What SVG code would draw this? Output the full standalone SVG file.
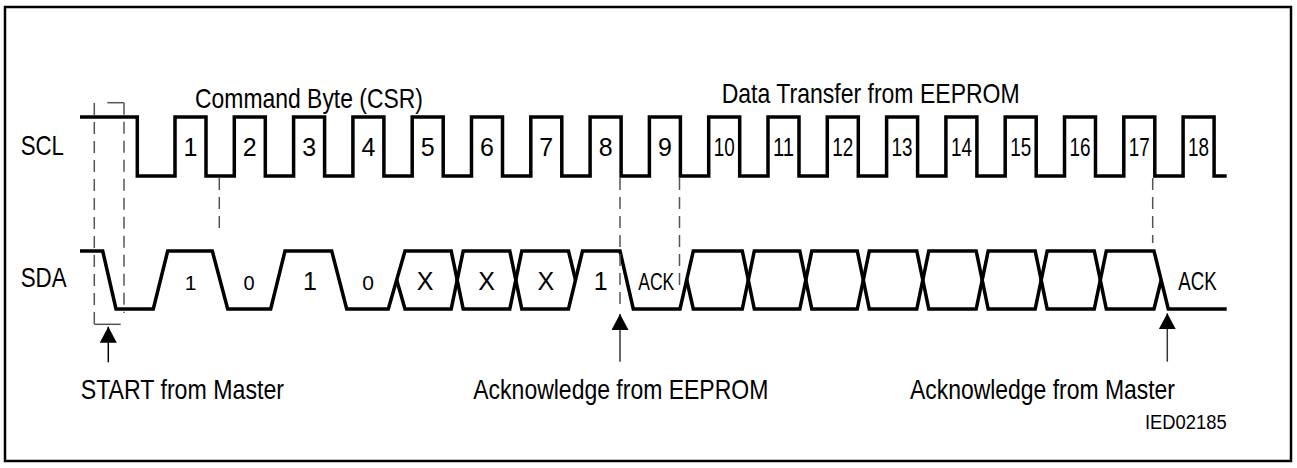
<svg xmlns="http://www.w3.org/2000/svg" width="1297" height="468" viewBox="0 0 1297 468">
<style>
.t{font-family:"Liberation Sans",Arial,sans-serif;fill:#000}
.lbl{font-size:27.5px}
.num{font-size:25px;text-anchor:middle}
.sm{font-size:21px;text-anchor:middle}
.wave{fill:none;stroke:#000;stroke-width:3.5;stroke-linejoin:miter;stroke-linecap:butt}
.dash{fill:none;stroke:#555;stroke-width:1.5;stroke-dasharray:12 7}
.thin{fill:none;stroke:#555;stroke-width:1.5}
.arr{fill:none;stroke:#333;stroke-width:1.5;marker-end:url(#ah)}
</style>
<defs>
<marker id="ah" markerUnits="userSpaceOnUse" markerWidth="16" markerHeight="17" viewBox="0 0 15 16" refX="15" refY="8" orient="auto">
<path d="M0,0 L15,8 L0,16 Z" fill="#000"/>
</marker>
</defs>
<rect x="5" y="7" width="1286" height="454" fill="#fff" stroke="#000" stroke-width="2.5"/>

<g id="titles">
<text class="t lbl" x="195" y="108" textLength="228" lengthAdjust="spacingAndGlyphs">Command Byte (CSR)</text>
<text class="t lbl" x="721.7" y="103" textLength="298" lengthAdjust="spacingAndGlyphs">Data Transfer from EEPROM</text>
</g>

<g id="scl">
<text class="t lbl" x="20.7" y="155" textLength="43.3" lengthAdjust="spacingAndGlyphs">SCL</text>
<path class="wave" d="M80,117 H137.3 V176 H175 V117 H206 V176 H234.3 V117 H265.3 V176 H293.6 V117 H324.6 V176 H352.9 V117 H383.9 V176 H412.2 V117 H443.2 V176 H471.5 V117 H502.5 V176 H530.8 V117 H561.8 V176 H590.1 V117 H621.1 V176 H649.4 V117 H680.4 V176 H708.7 V117 H739.7 V176 H768 V117 H799 V176 H827.3 V117 H858.3 V176 H886.6 V117 H917.6 V176 H945.9 V117 H976.9 V176 H1005.2 V117 H1036.2 V176 H1064.5 V117 H1095.5 V176 H1123.8 V117 H1154.8 V176 H1183.1 V117 H1214.1 V176 H1226.7"/>
<text class="t num" x="190.5" y="156">1</text>
<text class="t num" x="249.8" y="156">2</text>
<text class="t num" x="309.1" y="156">3</text>
<text class="t num" x="368.4" y="156">4</text>
<text class="t num" x="427.7" y="156">5</text>
<text class="t num" x="487" y="156">6</text>
<text class="t num" x="546.3" y="156">7</text>
<text class="t num" x="605.6" y="156">8</text>
<text class="t num" x="664.9" y="156">9</text>
<text class="t num" x="724.2" y="156" textLength="21" lengthAdjust="spacingAndGlyphs">10</text>
<text class="t num" x="783.5" y="156" textLength="21" lengthAdjust="spacingAndGlyphs">11</text>
<text class="t num" x="842.8" y="156" textLength="21" lengthAdjust="spacingAndGlyphs">12</text>
<text class="t num" x="902.1" y="156" textLength="21" lengthAdjust="spacingAndGlyphs">13</text>
<text class="t num" x="961.4" y="156" textLength="21" lengthAdjust="spacingAndGlyphs">14</text>
<text class="t num" x="1020.7" y="156" textLength="21" lengthAdjust="spacingAndGlyphs">15</text>
<text class="t num" x="1080" y="156" textLength="21" lengthAdjust="spacingAndGlyphs">16</text>
<text class="t num" x="1139.3" y="156" textLength="21" lengthAdjust="spacingAndGlyphs">17</text>
<text class="t num" x="1198.6" y="156" textLength="21" lengthAdjust="spacingAndGlyphs">18</text>
</g>

<g id="sda">
<text class="t lbl" x="20.7" y="286.7" textLength="46" lengthAdjust="spacingAndGlyphs">SDA</text>
<path class="wave" d="M80,251 H102.7 L116,309 H153.3 L167.7,251 H212.3 L227.7,309 H270.7 L285,251 H331.7 L346.7,309 H388.3 L405,251 H451.2 L463.2,309 H509.8 L521.8,251 H568.5 L575.5,280"/>
<path class="wave" d="M396.7,280 L405,309 H451.2 L463.2,251 H509.8 L521.8,309 H568.5 L582.5,251 H620 L633.3,309 H680 L693.3,251 H742.3 L754.3,309 H799.8 L811.8,251 H857.3 L869.3,309 H916.8 L928.8,251 H976.2 L988.2,309 H1035.2 L1047.2,251 H1094.3 L1106.3,309 H1154 L1161.2,280"/>
<path class="wave" d="M686.7,280 L693.3,309 H742.3 L754.3,251 H799.8 L811.8,309 H857.3 L869.3,251 H916.8 L928.8,309 H976.2 L988.2,251 H1035.2 L1047.2,309 H1094.3 L1106.3,251 H1154 L1168.3,309 H1226.7"/>
<text class="t sm" x="190.5" y="290">1</text>
<text class="t sm" x="249" y="290" style="font-size:20px">0</text>
<text class="t num" x="310" y="290">1</text>
<text class="t sm" x="368" y="290">0</text>
<text class="t num" x="425" y="290">X</text>
<text class="t num" x="486.7" y="290">X</text>
<text class="t num" x="545.8" y="290">X</text>
<text class="t num" x="600.8" y="290">1</text>
<text class="t num" x="656.3" y="289.5" textLength="36" lengthAdjust="spacingAndGlyphs" style="font-size:23px">ACK</text>
<text class="t num" x="1197.5" y="289.5" textLength="38.5" lengthAdjust="spacingAndGlyphs">ACK</text>
</g>

<g id="connectors">
<path class="dash" d="M94.3,103 V324"/>
<path class="thin" d="M94.3,324.3 H120.7"/>
<path class="thin" d="M107.3,102.7 H124"/>
<path class="dash" d="M124,102.7 V313"/>
<path class="dash" d="M219.3,178 V232"/>
<path class="dash" d="M620,178 V311"/>
<path class="dash" d="M679.5,178 V285"/>
<path class="dash" d="M1152.7,178 V243"/>
<line class="arr" x1="108.3" y1="362.3" x2="108.3" y2="326.7" style="stroke:#000"/>
<line class="arr" x1="620" y1="361.7" x2="620" y2="314"/>
<line class="arr" x1="1167.3" y1="361.7" x2="1167.3" y2="313.3"/>
</g>

<g id="annotations">
<text class="t lbl" x="80.7" y="399" textLength="203.3" lengthAdjust="spacingAndGlyphs">START from Master</text>
<text class="t lbl" x="473.3" y="399.3" textLength="295" lengthAdjust="spacingAndGlyphs">Acknowledge from EEPROM</text>
<text class="t lbl" x="910" y="399.3" textLength="265" lengthAdjust="spacingAndGlyphs">Acknowledge from Master</text>
<text class="t" x="1145" y="429" style="font-size:20.5px" textLength="81.7" lengthAdjust="spacingAndGlyphs">IED02185</text>
</g>
</svg>
